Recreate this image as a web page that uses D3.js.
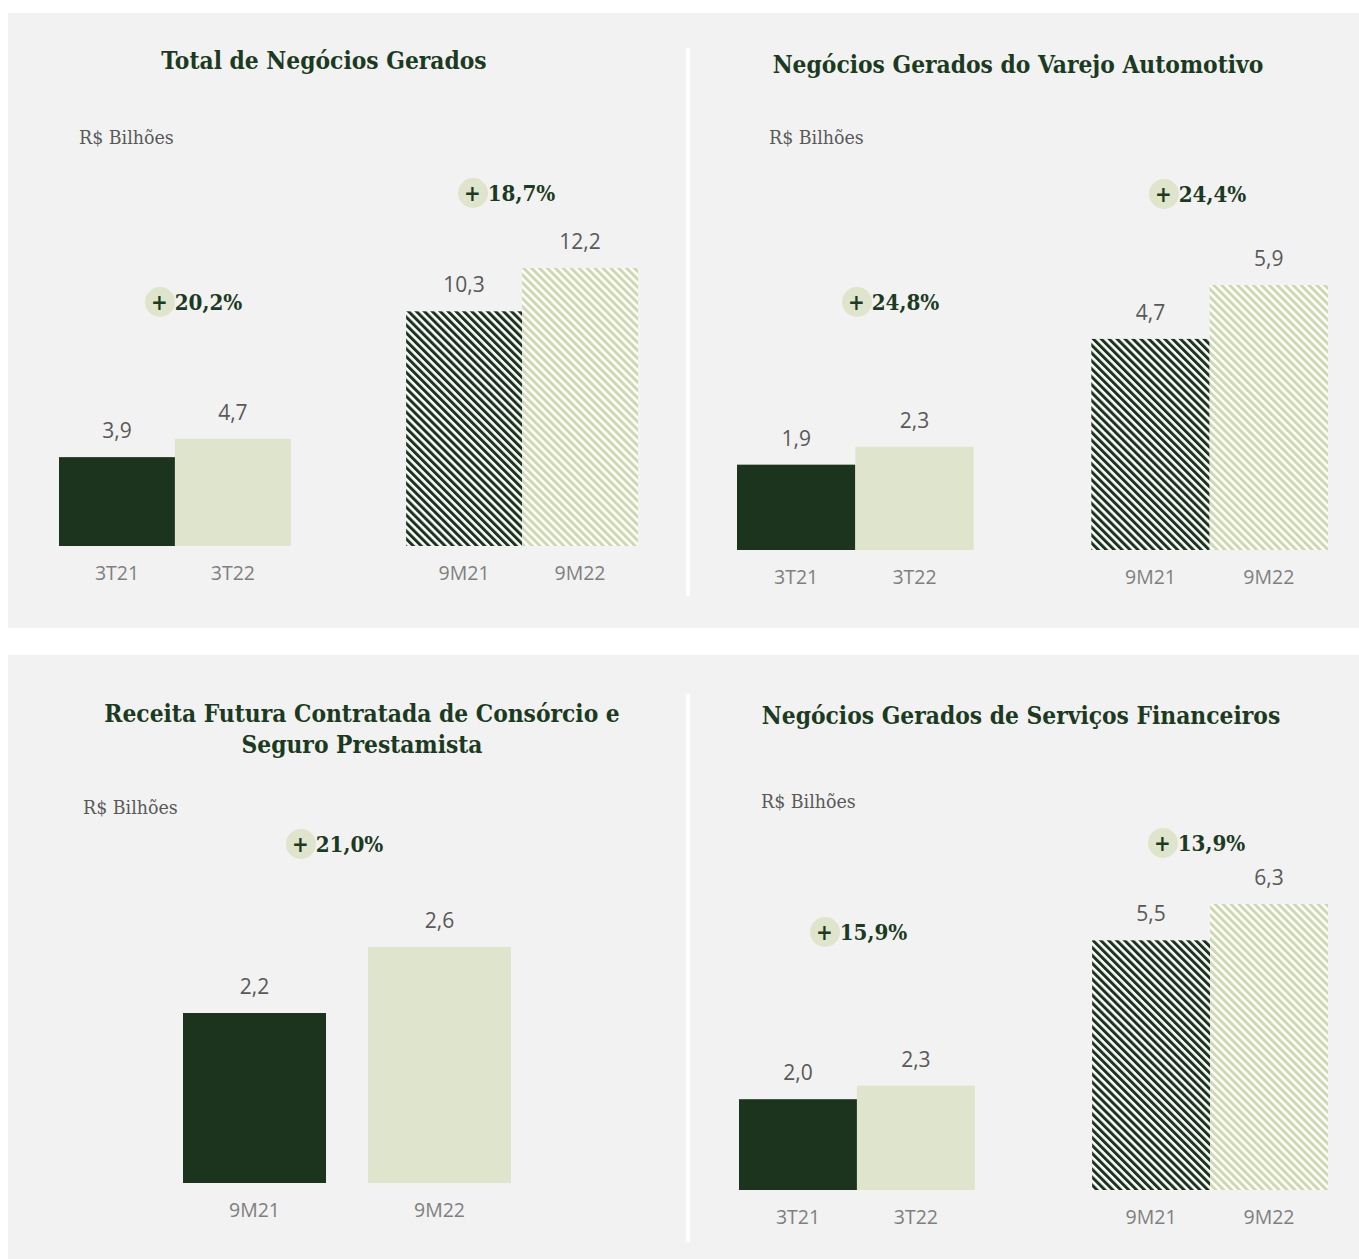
<!DOCTYPE html>
<html><head><meta charset="utf-8">
<script src="https://cdn.jsdelivr.net/npm/d3@7"></script>
<style>body{margin:0;background:#fff}svg{display:block}</style>
</head><body>
<script>
// ---- data ----
const titles = ["Total de Negócios Gerados","Negócios Gerados do Varejo Automotivo",["Receita Futura Contratada de Consórcio e","Seguro Prestamista"],"Negócios Gerados de Serviços Financeiros"];
const unitLabel = "R$ Bilhões";
const categoriesQ = ["3T21","3T22"];
const categoriesM = ["9M21","9M22"];
const totalQ = [3.9,4.7];
const totalM = [10.3,12.2];
const totalGrowth = ["+ 20,2%","+ 18,7%"];
const varejoQ = [1.9,2.3];
const varejoM = [4.7,5.9];
const varejoGrowth = ["+ 24,8%","+ 24,4%"];
const receitaM = [2.2,2.6];
const receitaGrowth = ["+ 21,0%"];
const servicosQ = [2.0,2.3];
const servicosM = [5.5,6.3];
const servicosGrowth = ["+ 15,9%","+ 13,9%"];

const W=1359,H=1259;
const DARK="#1c331d", LIGHT="#dfe4cd", HATCH_LIGHT="#cdd7b0", TITLE="#1c3a1f";
const svg=d3.select("body").append("svg").attr("width",W).attr("height",H);
const defs=svg.append("defs");
function hatch(id,color){
  const p=defs.append("pattern").attr("id",id).attr("patternUnits","userSpaceOnUse")
    .attr("width",5.6).attr("height",5.6).attr("patternTransform","rotate(-45)");
  p.append("rect").attr("width",5.6).attr("height",5.6).attr("fill","#fff");
  p.append("rect").attr("width",3).attr("height",5.6).attr("fill",color);
}
hatch("hd",DARK); hatch("hl",HATCH_LIGHT);

svg.append("rect").attr("x",8).attr("y",13).attr("width",1351).attr("height",615).attr("fill","#f2f2f2");
svg.append("rect").attr("x",8).attr("y",655).attr("width",1351).attr("height",604).attr("fill","#f2f2f2");
svg.append("rect").attr("x",686).attr("y",48).attr("width",4).attr("height",548).attr("fill","#fff");
svg.append("rect").attr("x",686).attr("y",694).attr("width",4).attr("height",548).attr("fill","#fff");

const serif="'DejaVu Serif Condensed','DejaVu Serif',serif";
const sans="'Open Sans',sans-serif";

function title(lines,cx,y0){
  const t=svg.append("text").attr("text-anchor","middle").attr("font-family",serif)
   .attr("font-weight","bold").attr("font-size",24.3).attr("fill",TITLE);
  (Array.isArray(lines)?lines:[lines]).forEach((l,i)=>t.append("tspan").attr("x",cx).attr("y",y0+i*31).text(l));
}
function unit(x,y){
  svg.append("text").attr("x",x).attr("y",y).attr("font-family",serif).attr("font-size",19.4)
   .attr("fill","#595959").text(unitLabel);
}
function badge(cx,cy,txt){
  svg.append("circle").attr("cx",cx).attr("cy",cy).attr("r",15).attr("fill",LIGHT);
  svg.append("text").attr("x",cx-9).attr("y",cy+8).attr("font-family",serif).attr("font-weight","bold")
   .attr("font-size",22.2).attr("fill",TITLE).text(txt);
}
// group of bars drawn via scales
function bars(cats,vals,x,y,fills,catY){
  const g=svg.append("g");
  g.selectAll("rect").data(vals).join("rect")
   .attr("x",(d,i)=>x(cats[i])).attr("width",x.bandwidth())
   .attr("y",d=>y(d)).attr("height",d=>y.range()[0]-y(d))
   .attr("fill",(d,i)=>fills[i]);
  g.selectAll("text.v").data(vals).join("text").attr("class","v")
   .attr("x",(d,i)=>x(cats[i])+x.bandwidth()/2).attr("y",d=>y(d)-19)
   .attr("text-anchor","middle").attr("font-family",sans).attr("font-size",21).attr("fill","#595959")
   .text(d=>d3.format(".1f")(d).replace(".",","));
  const ax=g.append("g").attr("transform",`translate(0,${catY})`)
   .call(d3.axisBottom(x).tickSize(0).tickPadding(0));
  ax.select(".domain").remove();
  ax.selectAll("text").attr("font-family",sans).attr("font-size",19.5).attr("fill","#7f7f7f").attr("dy",0);
}
function twoGroupPanel(q,m,range,base,ymax,px,catY){
  const y=d3.scaleLinear().domain([0,ymax]).range([base,base-px]);
  const outer=d3.scaleBand().domain(["Q","M"]).range(range).paddingInner(0.332).paddingOuter(0);
  const xq=d3.scaleBand().domain(categoriesQ).range([outer("Q"),outer("Q")+outer.bandwidth()]);
  const xm=d3.scaleBand().domain(categoriesM).range([outer("M"),outer("M")+outer.bandwidth()]);
  bars(categoriesQ,q,xq,y,[DARK,LIGHT],catY);
  bars(categoriesM,m,xm,y,["url(#hd)","url(#hl)"],catY);
}

// Panel 1
title(titles[0],324,69); unit(79,144);
twoGroupPanel(totalQ,totalM,[59,638],546,12.2,278,580);
badge(160,302,totalGrowth[0]); badge(473,193,totalGrowth[1]);

// Panel 2
title(titles[1],1018,73); unit(769,144);
twoGroupPanel(varejoQ,varejoM,[737,1328],550,5.9,265,584);
badge(857,302,varejoGrowth[0]); badge(1164,194,varejoGrowth[1]);

// Panel 3
title(titles[2],362,722); unit(83,814);
{
  const y=d3.scaleLinear().domain([1.17,2.6]).range([1183,947]);
  const x=d3.scaleBand().domain(categoriesM).range([183,511]).paddingInner(0.227).paddingOuter(0);
  bars(categoriesM,receitaM,x,y,[DARK,LIGHT],1217);
}
badge(301,844,receitaGrowth[0]);

// Panel 4
title(titles[3],1021,724); unit(761,808);
twoGroupPanel(servicosQ,servicosM,[739,1328],1190,6.3,286,1224);
badge(825,932,servicosGrowth[0]); badge(1163,843,servicosGrowth[1]);
</script>
</body></html>
